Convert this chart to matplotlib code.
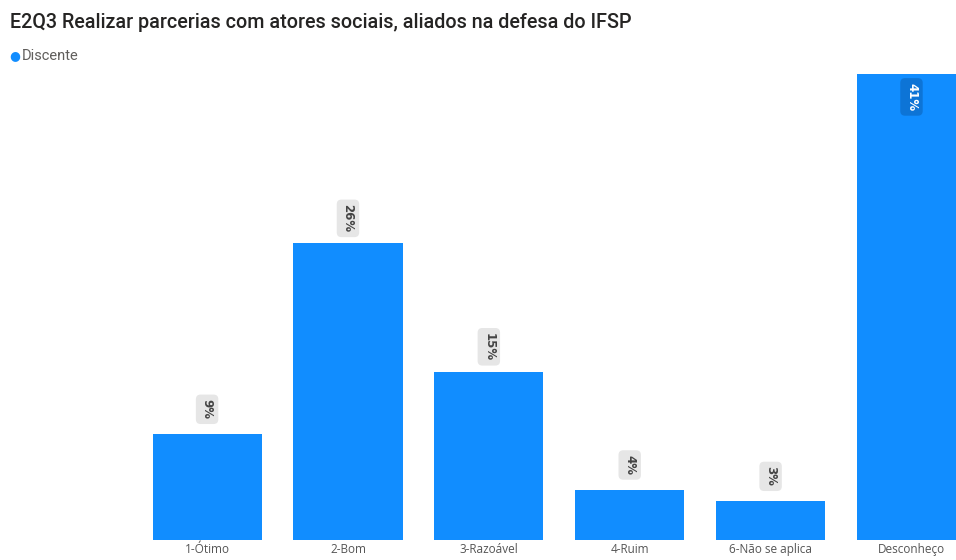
import matplotlib.pyplot as plt

# data
categories = ['1-Ótimo', '2-Bom', '3-Razoável', '4-Ruim', '6-Não se aplica', 'Desconheço']
values = [9.3, 26.1, 14.8, 4.4, 3.4, 41.0]
labels = ['9%', '26%', '15%', '4%', '3%', '41%']

BLUE = '#118DFF'

fig = plt.figure(figsize=(9.56, 5.6), dpi=100)
ax = fig.add_axes([0, 20 / 560, 1, 470 / 560])

x = range(len(categories))
ax.bar(x, values, width=0.775, color=BLUE)
ax.set_xlim(-1.47, 5.316)
ax.set_ylim(0, 41.0 * 470 / 466)

ax.set_xticks(list(x))
ax.set_xticklabels(categories, fontsize=8.5, color='#555555', family='Open Sans')
ax.tick_params(axis='x', length=0, pad=2)
ax.set_yticks([])
for s in ax.spines.values():
    s.set_visible(False)

# data labels, rotated, with a light box
for i, (v, lab) in enumerate(zip(values, labels)):
    if i == len(values) - 1:
        ax.annotate(lab, (i, v), xytext=(0, -16.5), textcoords='offset points',
                    rotation=-90, ha='center', va='center', fontsize=8.5,
                    fontweight='bold', color='white',
                    bbox=dict(boxstyle='round,pad=0.4', fc='#0D74D6', ec='none'))
    else:
        ax.annotate(lab, (i, v), xytext=(0, 18), textcoords='offset points',
                    rotation=-90, ha='center', va='center', fontsize=8.5,
                    fontweight='bold', color='#444444',
                    bbox=dict(boxstyle='round,pad=0.4', fc='#E6E6E6', ec='none'))

# title and legend
fig.text(10 / 956, 1 - 23 / 560, 'E2Q3 Realizar parcerias com atores sociais, aliados na defesa do IFSP',
         fontsize=14.2, family='Roboto', fontweight='medium', color='#252423', va='center')
fig.text(15 / 956, 1 - 56 / 560, '●', fontsize=9, color=BLUE, ha='center', va='center')
fig.text(22 / 956, 1 - 56 / 560, 'Discente', fontsize=10.5, family='Roboto',
         color='#605E5C', va='center')

fig.savefig('out.png', dpi=100)
